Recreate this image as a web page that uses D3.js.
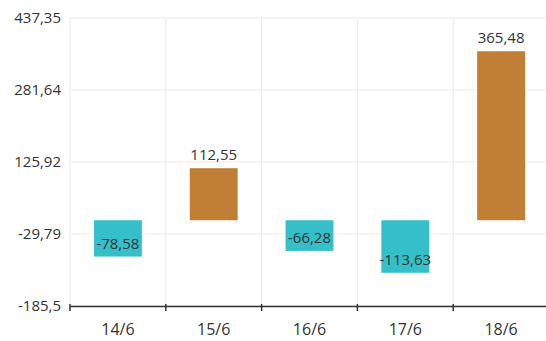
<!DOCTYPE html>
<html><head><meta charset="utf-8">
<script src="https://cdn.jsdelivr.net/npm/d3@7"></script>
<style>html,body{margin:0;padding:0;background:#fff;}svg{display:block;}</style>
</head><body>
<svg id="chart" width="546" height="341"></svg>
<script>
const categories = ["14/6","15/6","16/6","17/6","18/6"];
const values = [-78.58, 112.55, -66.28, -113.63, 365.48];
const yTicks = [437.35, 281.64, 125.92, -29.79, -185.5];
const valueLabels = ["-78,58","112,55","-66,28","-113,63","365,48"];
const yTickLabels = ["437,35","281,64","125,92","-29,79","-185,5"];

const svg = d3.select("#chart");
const m = {left:70, right:-3, top:18, bottom:35};
const W = 546, H = 341;
const font = "'Open Sans', sans-serif";

const x = d3.scaleBand().domain(categories).range([m.left, W - m.right]).paddingInner(0).paddingOuter(0);
const y = d3.scaleLinear().domain([-185.5, 437.35]).range([306, m.top]);

// horizontal gridlines
svg.append("g").selectAll("line").data(yTicks).join("line")
  .attr("x1", m.left).attr("x2", W - m.right)
  .attr("y1", d => y(d)).attr("y2", d => y(d))
  .attr("stroke", "#ebebeb").attr("stroke-width", 1);

// vertical gridlines
const vx = categories.map(c => x(c)).concat([x(categories[categories.length-1]) + x.bandwidth()]);
svg.append("g").selectAll("line").data(vx).join("line")
  .attr("x1", d => d).attr("x2", d => d)
  .attr("y1", m.top).attr("y2", y(-185.5))
  .attr("stroke", "#ebebeb").attr("stroke-width", 1);

// bars
const bw = x.bandwidth() * 0.5;
svg.append("g").selectAll("rect").data(values).join("rect")
  .attr("x", (d,i) => x(categories[i]) + (x.bandwidth() - bw)/2)
  .attr("width", bw)
  .attr("y", d => Math.min(y(0), y(d)))
  .attr("height", d => Math.abs(y(d) - y(0)))
  .attr("fill", d => d >= 0 ? "#c17f35" : "#35c0c9");

// value labels
svg.append("g").selectAll("text").data(values).join("text")
  .attr("x", (d,i) => x(categories[i]) + x.bandwidth()/2)
  .attr("y", d => y(d) - 13)
  .attr("dy", "0.35em")
  .attr("text-anchor", "middle")
  .attr("font-family", font).attr("font-size", 15)
  .attr("fill", "#333")
  .text((d,i) => valueLabels[i]);

// y axis labels
svg.append("g").selectAll("text").data(yTicks).join("text")
  .attr("x", 61).attr("y", d => y(d)).attr("dy", "0.35em")
  .attr("text-anchor", "end")
  .attr("font-family", font).attr("font-size", 15)
  .attr("fill", "#333")
  .text((d,i) => yTickLabels[i]);

// x axis
const xAxis = d3.axisBottom(x).tickSize(0).tickPadding(0).tickFormat(d => d);
const gx = svg.append("g").attr("transform", `translate(0,${y(-185.5)})`).call(xAxis);
gx.select(".domain").attr("stroke", "#333").attr("stroke-width", 1.5);
gx.selectAll("text").attr("font-family", font).attr("font-size", 16).attr("fill", "#333")
  .attr("y", 23).attr("dy", "0.35em");
svg.append("g").selectAll("line").data(vx).join("line")
  .attr("x1", d => d).attr("x2", d => d)
  .attr("y1", y(-185.5) - 2).attr("y2", y(-185.5) + 5)
  .attr("stroke", "#333").attr("stroke-width", 1.5);
</script>
</body></html>
